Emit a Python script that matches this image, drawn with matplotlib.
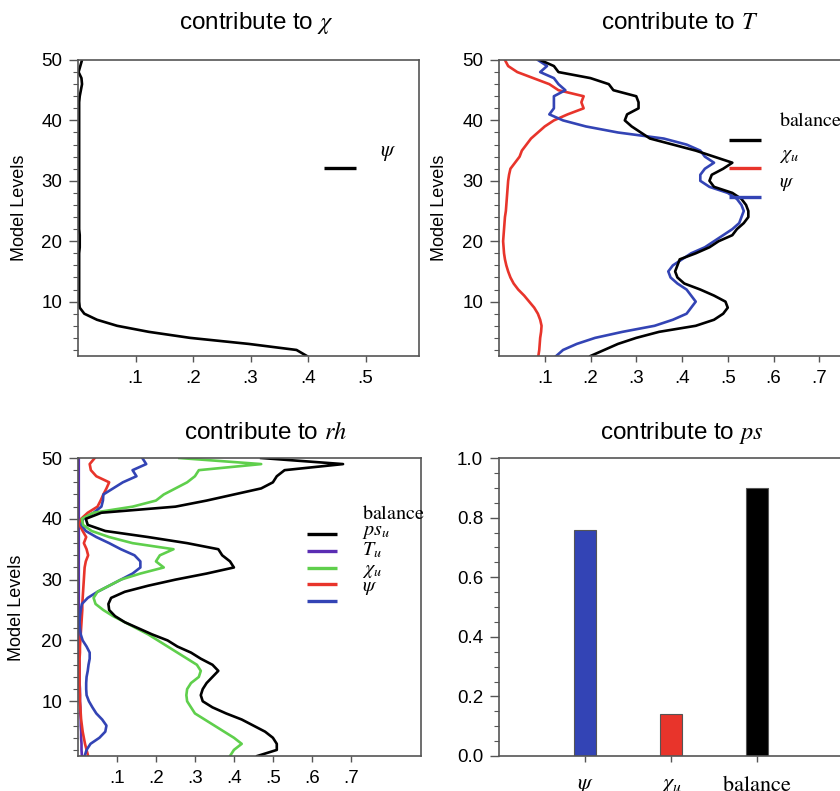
import matplotlib
matplotlib.use('Agg')
import matplotlib.pyplot as plt
from matplotlib.ticker import FixedLocator, MultipleLocator

plt.rcParams['font.family'] = ['Liberation Sans', 'DejaVu Sans']
plt.rcParams['mathtext.fontset'] = 'stix'

# ---------------- data ----------------
# model levels, listed from top (50) to bottom (1)
levels = list(range(50, 0, -1))

# panel 1: contribution to chi (psi)
chi_psi = [0.007, 0.004, 0.001, 0.006, 0.007, 0.005, 0.003, 0.002, 0.002, 0.002,
           0.002, 0.002, 0.002, 0.002, 0.002, 0.002, 0.002, 0.002, 0.002, 0.002,
           0.002, 0.002, 0.002, 0.002, 0.002, 0.002, 0.002, 0.002, 0.002, 0.003,
           0.003, 0.003, 0.002, 0.002, 0.002, 0.002, 0.002, 0.002, 0.002, 0.002,
           0.002, 0.003, 0.011, 0.033, 0.068, 0.123, 0.195, 0.297, 0.380, 0.398]

# panel 2: contribution to T
t_balance = [0.09, 0.12, 0.13, 0.20, 0.24, 0.25, 0.30, 0.305, 0.305, 0.28,
             0.275, 0.29, 0.31, 0.33, 0.38, 0.43, 0.47, 0.51, 0.49, 0.465,
             0.46, 0.47, 0.51, 0.53, 0.54, 0.545, 0.545, 0.535, 0.52, 0.51,
             0.48, 0.46, 0.43, 0.395, 0.39, 0.385, 0.39, 0.405, 0.44, 0.47,
             0.495, 0.50, 0.49, 0.47, 0.43, 0.35, 0.30, 0.26, 0.23, 0.20]
t_psi = [0.085, 0.105, 0.09, 0.12, 0.13, 0.145, 0.12, 0.12, 0.12, 0.11,
         0.14, 0.19, 0.26, 0.36, 0.41, 0.44, 0.45, 0.47, 0.45, 0.44,
         0.44, 0.46, 0.50, 0.52, 0.53, 0.535, 0.53, 0.525, 0.51, 0.49,
         0.47, 0.45, 0.42, 0.40, 0.38, 0.37, 0.375, 0.39, 0.41, 0.42,
         0.43, 0.42, 0.41, 0.38, 0.34, 0.27, 0.21, 0.17, 0.14, 0.125]
t_chiu = [0.013, 0.02, 0.04, 0.075, 0.11, 0.13, 0.185, 0.18, 0.185, 0.15,
          0.12, 0.10, 0.085, 0.07, 0.06, 0.05, 0.045, 0.035, 0.025, 0.022,
          0.02, 0.019, 0.018, 0.017, 0.016, 0.015, 0.013, 0.012, 0.011, 0.01,
          0.009, 0.01, 0.011, 0.013, 0.016, 0.02, 0.025, 0.032, 0.042, 0.055,
          0.066, 0.077, 0.085, 0.09, 0.093, 0.092, 0.09, 0.089, 0.088, 0.086]

# panel 3: contribution to rh
rh_black = [0.47, 0.68, 0.53, 0.51, 0.50, 0.47, 0.40, 0.33, 0.25, 0.06,
            0.02, 0.025, 0.07, 0.18, 0.28, 0.36, 0.37, 0.39, 0.40, 0.33,
            0.25, 0.18, 0.12, 0.085, 0.078, 0.08, 0.095, 0.12, 0.155, 0.19,
            0.23, 0.255, 0.29, 0.315, 0.345, 0.36, 0.345, 0.33, 0.32, 0.315,
            0.32, 0.345, 0.38, 0.42, 0.45, 0.48, 0.50, 0.51, 0.51, 0.46]
rh_green = [0.26, 0.47, 0.31, 0.30, 0.28, 0.25, 0.22, 0.20, 0.14, 0.04,
            0.01, 0.013, 0.035, 0.08, 0.14, 0.245, 0.21, 0.20, 0.22, 0.16,
            0.11, 0.08, 0.05, 0.04, 0.045, 0.065, 0.09, 0.12, 0.15, 0.18,
            0.205, 0.23, 0.255, 0.28, 0.305, 0.315, 0.31, 0.29, 0.28, 0.278,
            0.28, 0.29, 0.30, 0.325, 0.35, 0.375, 0.40, 0.42, 0.40, 0.39]
rh_blue = [0.165, 0.175, 0.14, 0.15, 0.115, 0.09, 0.065, 0.064, 0.06, 0.04,
           0.013, 0.009, 0.02, 0.047, 0.08, 0.11, 0.145, 0.16, 0.16, 0.14,
           0.11, 0.08, 0.05, 0.025, 0.01, 0.007, 0.005, 0.004, 0.005, 0.007,
           0.012, 0.022, 0.03, 0.03, 0.027, 0.025, 0.022, 0.021, 0.021, 0.022,
           0.028, 0.037, 0.047, 0.062, 0.073, 0.07, 0.055, 0.032, 0.022, 0.017]
rh_red = [0.043, 0.03, 0.033, 0.047, 0.08, 0.073, 0.065, 0.058, 0.05, 0.025,
          0.008, 0.004, 0.012, 0.021, 0.015, 0.022, 0.026, 0.02, 0.017, 0.016,
          0.015, 0.014, 0.013, 0.012, 0.011, 0.011, 0.01, 0.009, 0.008, 0.007,
          0.006, 0.005, 0.005, 0.004, 0.004, 0.004, 0.004, 0.004, 0.004, 0.005,
          0.005, 0.006, 0.007, 0.008, 0.01, 0.012, 0.015, 0.018, 0.022, 0.026]
rh_purple = [0.002, 0.002, 0.002, 0.002, 0.002, 0.002, 0.002, 0.002, 0.002, 0.002,
             0.002, 0.002, 0.002, 0.002, 0.002, 0.002, 0.002, 0.002, 0.002, 0.002,
             0.002, 0.002, 0.002, 0.002, 0.002, 0.003, 0.003, 0.003, 0.003, 0.003,
             0.003, 0.003, 0.003, 0.003, 0.004, 0.004, 0.004, 0.004, 0.005, 0.005,
             0.005, 0.006, 0.006, 0.007, 0.007, 0.008, 0.008, 0.009, 0.009, 0.01]

# panel 4: contribution to ps
ps_labels = [r'$\psi$', r'$\chi_u$', r'$\mathrm{balance}$']
ps_values = [0.76, 0.14, 0.90]

tick_vals = [0.1, 0.2, 0.3, 0.4, 0.5, 0.6, 0.7]
tick_labels = ['.1', '.2', '.3', '.4', '.5', '.6', '.7']

# ---------------- style ----------------
BLACK = '#000000'
RED = '#e8342b'
BLUE = '#3344b5'
GREEN = '#5fcf4c'
PURPLE = '#5a2db3'
SPINE = '#555555'
LW = 1.9

fig = plt.figure(figsize=(8.4, 7.91), dpi=100)
W, H = 840.0, 791.0


def add_axes_px(left, top, width, height):
    return fig.add_axes([left / W, 1 - (top + height) / H, width / W, height / H])


def style_axes(ax):
    for s in ax.spines.values():
        s.set_color(SPINE)
        s.set_linewidth(1.2)
    ax.tick_params(axis='both', which='major', direction='out', color=SPINE,
                   labelsize=13.5, width=1.0)
    ax.tick_params(axis='y', which='major', length=6.5, pad=5)
    ax.tick_params(axis='y', which='minor', direction='out', length=3.5,
                   width=0.8, color=SPINE)
    ax.tick_params(axis='x', which='major', length=4, pad=6)


def style_profile(ax, xmax, nticks):
    ax.set_xlim(0, xmax)
    ax.set_ylim(1, 50)
    ax.set_yticks([10, 20, 30, 40, 50])
    ax.yaxis.set_minor_locator(FixedLocator(list(range(2, 50, 2))))
    ax.set_xticks(tick_vals[:nticks])
    ax.set_xticklabels(tick_labels[:nticks])
    style_axes(ax)


def title_px(x, y, s):
    fig.text(x / W, 1 - y / H, s, ha='center', va='center', fontsize=17.5)


def ylabel_px(x, y):
    fig.text(x / W, 1 - y / H, 'Model Levels', rotation=90, ha='center',
             va='center', fontsize=13)


def legend_entry(ax, x0, x1, yl, color, label=None, xt=None, yt=None, size=14.5):
    ax.plot([x0, x1], [yl, yl], color=color, lw=2.4, transform=ax.transAxes,
            clip_on=False, solid_capstyle='butt')
    if label is not None:
        ax.text(xt, yt, label, transform=ax.transAxes, fontsize=size,
                ha='left', va='center', clip_on=False)


# ---------------- panel 1 ----------------
ax1 = add_axes_px(78, 60, 341, 296)
ax1.plot(chi_psi, levels, color=BLACK, lw=LW)
style_profile(ax1, 0.593, 5)
title_px(256, 23, r'contribute to $\chi$')
ylabel_px(20, 208)
legend_entry(ax1, 0.721, 0.815, 0.635, BLACK)
ax1.text(0.886, 0.686, r'$\psi$', transform=ax1.transAxes, fontsize=15.5,
         ha='left', va='center')

# ---------------- panel 2 ----------------
ax2 = add_axes_px(499, 60, 366, 296)
ax2.plot(t_chiu, levels, color=RED, lw=LW)
ax2.plot(t_psi, levels, color=BLUE, lw=LW)
ax2.plot(t_balance, levels, color=BLACK, lw=LW)
style_profile(ax2, 0.8, 7)
title_px(680, 23, r'contribute to $T$')
ylabel_px(440, 208)
legend_entry(ax2, 0.628, 0.716, 0.730, BLACK, r'$\mathrm{balance}$', 0.765, 0.797)
legend_entry(ax2, 0.628, 0.716, 0.635, RED, r'$\chi_u$', 0.765, 0.679)
legend_entry(ax2, 0.628, 0.716, 0.537, BLUE, r'$\psi$', 0.765, 0.584)

# ---------------- panel 3 ----------------
ax3 = add_axes_px(78, 458, 343, 298)
ax3.plot(rh_purple, levels, color=PURPLE, lw=LW)
ax3.plot(rh_red, levels, color=RED, lw=LW)
ax3.plot(rh_blue, levels, color=BLUE, lw=LW)
ax3.plot(rh_green, levels, color=GREEN, lw=LW)
ax3.plot(rh_black, levels, color=BLACK, lw=LW)
style_profile(ax3, 0.88, 7)
title_px(266, 433, r'contribute to $rh$')
ylabel_px(17, 608)
ax3.text(0.828, 0.815, r'$\mathrm{balance}$', transform=ax3.transAxes,
         fontsize=14.5, ha='left', va='center', clip_on=False)
legend_entry(ax3, 0.668, 0.755, 0.745, BLACK, r'$ps_u$', 0.828, 0.752)
legend_entry(ax3, 0.668, 0.755, 0.688, PURPLE, r'$T_u$', 0.828, 0.691)
legend_entry(ax3, 0.668, 0.755, 0.631, GREEN, r'$\chi_u$', 0.828, 0.624)
legend_entry(ax3, 0.668, 0.755, 0.577, RED, r'$\psi$', 0.828, 0.567)
legend_entry(ax3, 0.668, 0.755, 0.520, BLUE)

# ---------------- panel 4 ----------------
ax4 = add_axes_px(499, 458, 344, 298)
positions = list(range(1, len(ps_values) + 1))
ax4.bar(positions, ps_values, width=0.25, color=[BLUE, RED, BLACK],
        edgecolor=SPINE, linewidth=0.8)
ax4.set_xlim(0, 4)
ax4.set_ylim(0, 1.0)
ax4.set_yticks([0.0, 0.2, 0.4, 0.6, 0.8, 1.0])
ax4.set_yticklabels(['0.0', '0.2', '0.4', '0.6', '0.8', '1.0'])
ax4.yaxis.set_minor_locator(MultipleLocator(0.05))
ax4.set_xticks(positions)
ax4.set_xticklabels(ps_labels)
style_axes(ax4)
ax4.tick_params(axis='x', labelsize=16, pad=10)
title_px(682, 433, r'contribute to $ps$')

fig.savefig('out.png', dpi=100)
